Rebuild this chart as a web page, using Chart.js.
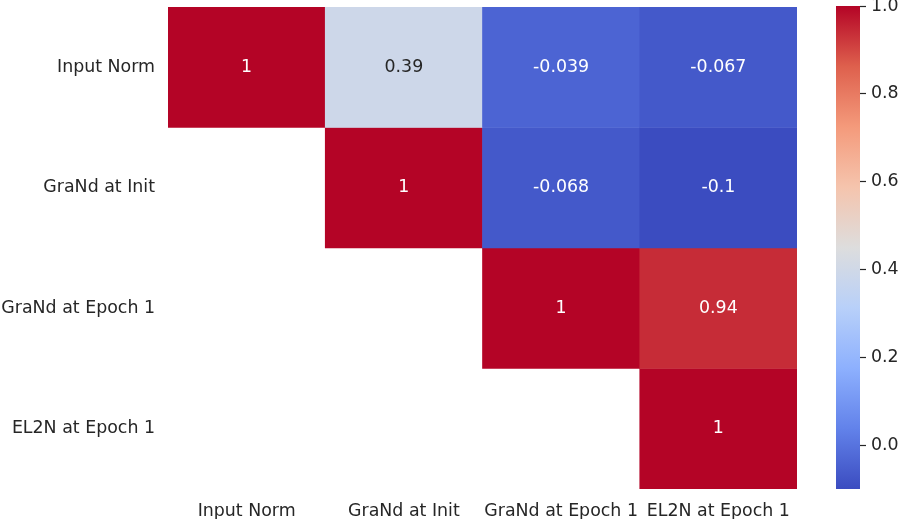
<!DOCTYPE html>
<html>
<head>
<meta charset="utf-8">
<script src="https://cdn.jsdelivr.net/npm/chart.js@4.4.1/dist/chart.umd.min.js"></script>
<style>
  html, body { margin: 0; padding: 0; background: #fff; }
  #wrap { position: relative; width: 900px; height: 519px; }
  #heat { position: absolute; left: 0; top: 0; }
  #bar { position: absolute; left: 800px; top: 0; }
</style>
</head>
<body>
<div id="wrap">
  <canvas id="heat" width="900" height="519"></canvas>
  <canvas id="bar" width="100" height="519"></canvas>
</div>
<script>
const rowLabels = ['Input Norm', 'GraNd at Init', 'GraNd at Epoch 1', 'EL2N at Epoch 1'];
const colLabels = ['Input Norm', 'GraNd at Init', 'GraNd at Epoch 1', 'EL2N at Epoch 1'];
// upper triangle only, lower part is masked
const corr = [
  [1, 0.39, -0.039, -0.067],
  [null, 1, -0.068, -0.1],
  [null, null, 1, 0.94],
  [null, null, null, 1],
];
const colorbarTicks = [0.0, 0.2, 0.4, 0.6, 0.8, 1.0];
const vmin = -0.1;
const vmax = 1.0;

const FONT = "'DejaVu Sans', sans-serif";
const FSIZE = 17.4;
const TEXT = '#262626';

// coolwarm anchors
const cmap = [
  [0.0, [59, 76, 192]],
  [0.125, [98, 130, 234]],
  [0.25, [141, 176, 254]],
  [0.375, [184, 208, 249]],
  [0.5, [221, 221, 221]],
  [0.625, [245, 196, 173]],
  [0.75, [244, 154, 123]],
  [0.875, [222, 96, 77]],
  [1.0, [180, 4, 38]],
];

const rgbAt = (t) => {
  t = Math.max(0, Math.min(1, t));
  for (let k = 1; k < cmap.length; k++) {
    if (t <= cmap[k][0]) {
      const [t0, c0] = cmap[k - 1];
      const [t1, c1] = cmap[k];
      const f = (t - t0) / (t1 - t0);
      return c0.map((c, i) => Math.round(c + (c1[i] - c) * f));
    }
  }
  return cmap[cmap.length - 1][1];
};
const colorFor = (v) => {
  const c = rgbAt((v - vmin) / (vmax - vmin));
  return `rgb(${c[0]},${c[1]},${c[2]})`;
};
const lum = (v) => {
  const c = rgbAt((v - vmin) / (vmax - vmin)).map((x) => {
    x /= 255;
    return x <= 0.03928 ? x / 12.92 : Math.pow((x + 0.055) / 1.055, 2.4);
  });
  return 0.2126 * c[0] + 0.7152 * c[1] + 0.0722 * c[2];
};

const datasets = rowLabels.map((r, i) => ({
  label: r,
  data: colLabels.map((c, j) => (corr[i][j] == null ? null : [i, i + 1])),
  backgroundColor: (ctx) => {
    const v = corr[i][ctx.dataIndex];
    return v == null ? 'rgba(0,0,0,0)' : colorFor(v);
  },
  borderWidth: 0,
  barPercentage: 1,
  categoryPercentage: 1,
}));

const cellText = {
  id: 'cellText',
  afterDatasetsDraw(chart) {
    const { ctx } = chart;
    ctx.save();
    ctx.font = `${FSIZE}px ${FONT}`;
    ctx.textAlign = 'center';
    ctx.textBaseline = 'middle';
    chart.data.datasets.forEach((ds, i) => {
      chart.getDatasetMeta(i).data.forEach((el, j) => {
        const v = corr[i][j];
        if (v == null) return;
        const y = (el.y + el.base) / 2;
        ctx.fillStyle = lum(v) > 0.408 ? TEXT : '#ffffff';
        ctx.fillText(String(Number(v.toPrecision(2))), el.x, y);
      });
    });
    ctx.restore();
  },
};

const noPad = (s) => {
  s.paddingTop = 0;
  s.paddingBottom = 0;
};

new Chart(document.getElementById('heat'), {
  type: 'bar',
  data: { labels: colLabels, datasets },
  plugins: [cellText],
  options: {
    responsive: false,
    animation: false,
    events: [],
    layout: { padding: { top: 7, right: 103, left: 0, bottom: 0 } },
    plugins: { legend: { display: false }, tooltip: { enabled: false } },
    datasets: { bar: { grouped: false } },
    scales: {
      x: {
        grid: { display: false },
        border: { display: false },
        ticks: { color: TEXT, font: { family: FONT, size: FSIZE }, maxRotation: 0, autoSkip: false, padding: 4 },
        afterFit: (s) => { s.height = 30; },
      },
      y: {
        type: 'linear',
        min: 0,
        max: 4,
        reverse: true,
        grid: { display: false },
        border: { display: false },
        afterBuildTicks: (s) => { s.ticks = rowLabels.map((r, i) => ({ value: i + 0.5 })); },
        ticks: {
          color: TEXT,
          font: { family: FONT, size: FSIZE },
          padding: 5,
          callback: (v) => rowLabels[Math.floor(v)],
        },
        afterFit: (s) => { s.width = 168; noPad(s); },
      },
    },
  },
});

new Chart(document.getElementById('bar'), {
  type: 'bar',
  data: {
    labels: ['scale'],
    datasets: [{
      data: [[vmin, vmax]],
      borderWidth: 0,
      barPercentage: 1,
      categoryPercentage: 1,
      backgroundColor: (ctx) => {
        const area = ctx.chart.chartArea;
        if (!area) return 'rgba(0,0,0,0)';
        const g = ctx.chart.ctx.createLinearGradient(0, area.bottom, 0, area.top);
        cmap.forEach(([t, c]) => g.addColorStop(t, `rgb(${c[0]},${c[1]},${c[2]})`));
        return g;
      },
    }],
  },
  options: {
    responsive: false,
    animation: false,
    events: [],
    layout: { padding: { top: 6, left: 36, right: 0, bottom: 30 } },
    plugins: { legend: { display: false }, tooltip: { enabled: false } },
    scales: {
      x: { display: false },
      y: {
        position: 'right',
        min: vmin,
        max: vmax,
        afterBuildTicks: (s) => { s.ticks = colorbarTicks.map((v) => ({ value: v })); },
        grid: { drawOnChartArea: false, tickLength: 6, tickWidth: 1.2, color: TEXT },
        border: { display: false },
        ticks: {
          color: TEXT,
          font: { family: FONT, size: FSIZE },
          padding: 5,
          callback: (v) => v.toFixed(1),
        },
        afterFit: (s) => { s.width = 40; noPad(s); },
      },
    },
  },
});
</script>
</body>
</html>
